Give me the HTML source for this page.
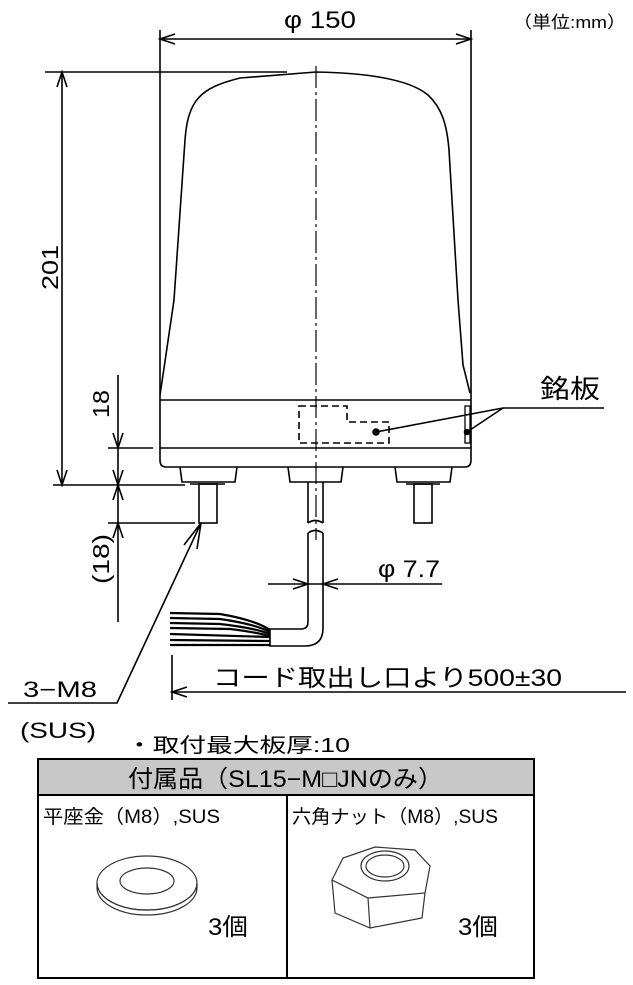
<!DOCTYPE html>
<html><head><meta charset="utf-8"><style>
html,body{margin:0;padding:0;background:#fff}
svg{display:block}
text{font-family:"Liberation Sans","Noto Sans CJK JP",sans-serif;fill:#000}
</style></head><body>
<svg width="633" height="985" viewBox="0 0 633 985" xmlns="http://www.w3.org/2000/svg">
<g stroke="#000" stroke-width="1.6" fill="none">
<line x1="160" y1="30" x2="160" y2="395"/>
<line x1="471" y1="30" x2="471" y2="395"/>
<line x1="160" y1="39" x2="471" y2="39"/>
<polyline points="175,34 160,39 175,44"/>
<polyline points="456,34 471,39 456,44"/>
<line x1="45" y1="72" x2="287" y2="72"/>
<line x1="62" y1="72" x2="62" y2="485"/>
<polyline points="57,87 62,72 67,87"/>
<polyline points="57,470 62,485 67,470"/>
<line x1="53" y1="485" x2="185" y2="485"/>
<path d="M163,375 L174,300 L185,140 C188,100 200,88 240,78 L316,72 C370,73 410,80 428,95 C442,108 447,125 449,150 L458,300 L463,365 L470,393"/>
<path d="M163,375 L160,395"/>
<path d="M160,395 L160,460 Q160,467 166,467 L465,467 Q471,467 471,460 L471,395"/>
<line x1="160" y1="400" x2="471" y2="400"/>
<line x1="160" y1="448" x2="471" y2="448"/>
<rect x="465" y="406" width="5" height="37" stroke-width="1.3"/>
<path d="M299,406 L347,406 L347,422 L389,422 L389,443 L299,443 Z" stroke-dasharray="7,4"/>
<circle cx="376" cy="432" r="3" fill="#000"/>
<circle cx="467" cy="432" r="2.5" fill="#000"/>
<line x1="376" y1="432" x2="503" y2="408"/>
<line x1="467" y1="432" x2="503" y2="408"/>
<line x1="503" y1="408" x2="604" y2="408"/>
<path d="M180,467 L182,482 L235,482 L237,467"/>
<rect x="199" y="484" width="18" height="39"/>
<line x1="190" y1="484" x2="225" y2="484"/>
<path d="M288,467 L290,482 L341,482 L343,467"/>
<path d="M395,467 L397,482 L450,482 L452,467"/>
<rect x="414" y="484" width="18" height="39"/>
<line x1="406" y1="484" x2="440" y2="484"/>
<path d="M308,482 L308,523 M323,482 L323,523"/>
<path d="M308,523 Q315,518 323,523"/>
<path d="M308,533 Q315,528 323,533"/>
<path d="M308,533 L308,622 Q308,629 301,629 L270,629 L270,646 L305,646 Q323,646 323,628 L323,533"/>
<g stroke-width="2.2">
<path d="M170,613 L220,614 Q255,620 270,630"/>
<path d="M170,618 L220,619 Q255,624 270,632"/>
<path d="M170,623 L220,624 Q255,628 270,634"/>
<path d="M170,628 L230,629 Q255,632 270,636"/>
<path d="M170,634 L270,637"/>
<path d="M170,640 L270,641"/>
<path d="M170,645 L270,645"/>
</g>
<line x1="268" y1="584" x2="442" y2="584"/>
<polyline points="293,579 308,584 293,589"/>
<polyline points="338,579 323,584 338,589"/>
<line x1="172" y1="655" x2="172" y2="700"/>
<line x1="172" y1="692" x2="626" y2="692"/>
<polyline points="187,687 172,692 187,697"/>
<line x1="118" y1="375" x2="118" y2="622"/>
<polyline points="113,433 118,448 123,433"/>
<polyline points="113,470 118,485 123,470"/>
<polyline points="113,500 118,485 123,500"/>
<polyline points="113,538 118,523 123,538"/>
<line x1="108" y1="448" x2="153" y2="448"/>
<line x1="108" y1="523" x2="195" y2="523"/>
<polyline points="8,703 117,703 201,523"/>
<polyline points="184,545 201,523 197,549"/>
<line x1="316" y1="66" x2="316" y2="540" stroke-width="1.2" stroke-dasharray="22,4,3,4"/>
</g>
<text x="284" y="28" font-size="24" textLength="72" lengthAdjust="spacingAndGlyphs">φ 150</text>
<text x="513" y="28" font-size="17" textLength="113" lengthAdjust="spacingAndGlyphs">（単位:mm）</text>
<text x="0" y="0" font-size="23" textLength="45" lengthAdjust="spacingAndGlyphs" transform="translate(58,290) rotate(-90)">201</text>
<text x="0" y="0" font-size="23" textLength="28" lengthAdjust="spacingAndGlyphs" transform="translate(109,418) rotate(-90)">18</text>
<text x="0" y="0" font-size="23" textLength="50" lengthAdjust="spacingAndGlyphs" transform="translate(109,584) rotate(-90)">(18)</text>
<text x="540" y="398" font-size="26" textLength="60" lengthAdjust="spacingAndGlyphs">銘板</text>
<text x="378" y="577" font-size="24" textLength="62" lengthAdjust="spacingAndGlyphs">φ 7.7</text>
<text x="213" y="686" font-size="24" textLength="349" lengthAdjust="spacingAndGlyphs">コード取出し口より500±30</text>
<text x="23" y="697" font-size="22" textLength="74" lengthAdjust="spacingAndGlyphs">3−M8</text>
<text x="20" y="738" font-size="22" textLength="76" lengthAdjust="spacingAndGlyphs">(SUS)</text>
<text x="126" y="752" font-size="20" textLength="224" lengthAdjust="spacingAndGlyphs">・取付最大板厚:10</text>
<rect x="38" y="759" width="496" height="36" fill="#c8c8c8"/>
<g stroke="#000" stroke-width="2" fill="none">
<rect x="38" y="759" width="496" height="219"/>
<line x1="38" y1="795" x2="534" y2="795"/>
<line x1="287" y1="795" x2="287" y2="978"/>
</g>
<text x="128" y="787" font-size="24" textLength="315" lengthAdjust="spacingAndGlyphs">付属品（SL15−M□JNのみ）</text>
<text x="43" y="823" font-size="19" textLength="177" lengthAdjust="spacingAndGlyphs">平座金（M8）,SUS</text>
<text x="292" y="823" font-size="19" textLength="206" lengthAdjust="spacingAndGlyphs">六角ナット（M8）,SUS</text>
<g stroke="#333" stroke-width="1.2" fill="none">
<path d="M97,883 A50,27 0 0,0 197,883 L197,888 A50,27 0 0,1 97,888 Z"/>
<ellipse cx="147" cy="883" rx="50" ry="27"/>
<ellipse cx="147" cy="881" rx="27" ry="13"/>
<path d="M332,880 L343,858 L375,847 L415,850 L430,866 L425,893 L368,898 Z"/>
<path d="M332,880 L335,913 L370,928 L422,918 L425,893 M368,898 L370,928"/>
<ellipse cx="385" cy="866" rx="24" ry="15"/>
<ellipse cx="385" cy="866" rx="19" ry="11"/>
</g>
<text x="208" y="935" font-size="24" textLength="40" lengthAdjust="spacingAndGlyphs">3個</text>
<text x="458" y="935" font-size="24" textLength="40" lengthAdjust="spacingAndGlyphs">3個</text>
</svg>
</body></html>
